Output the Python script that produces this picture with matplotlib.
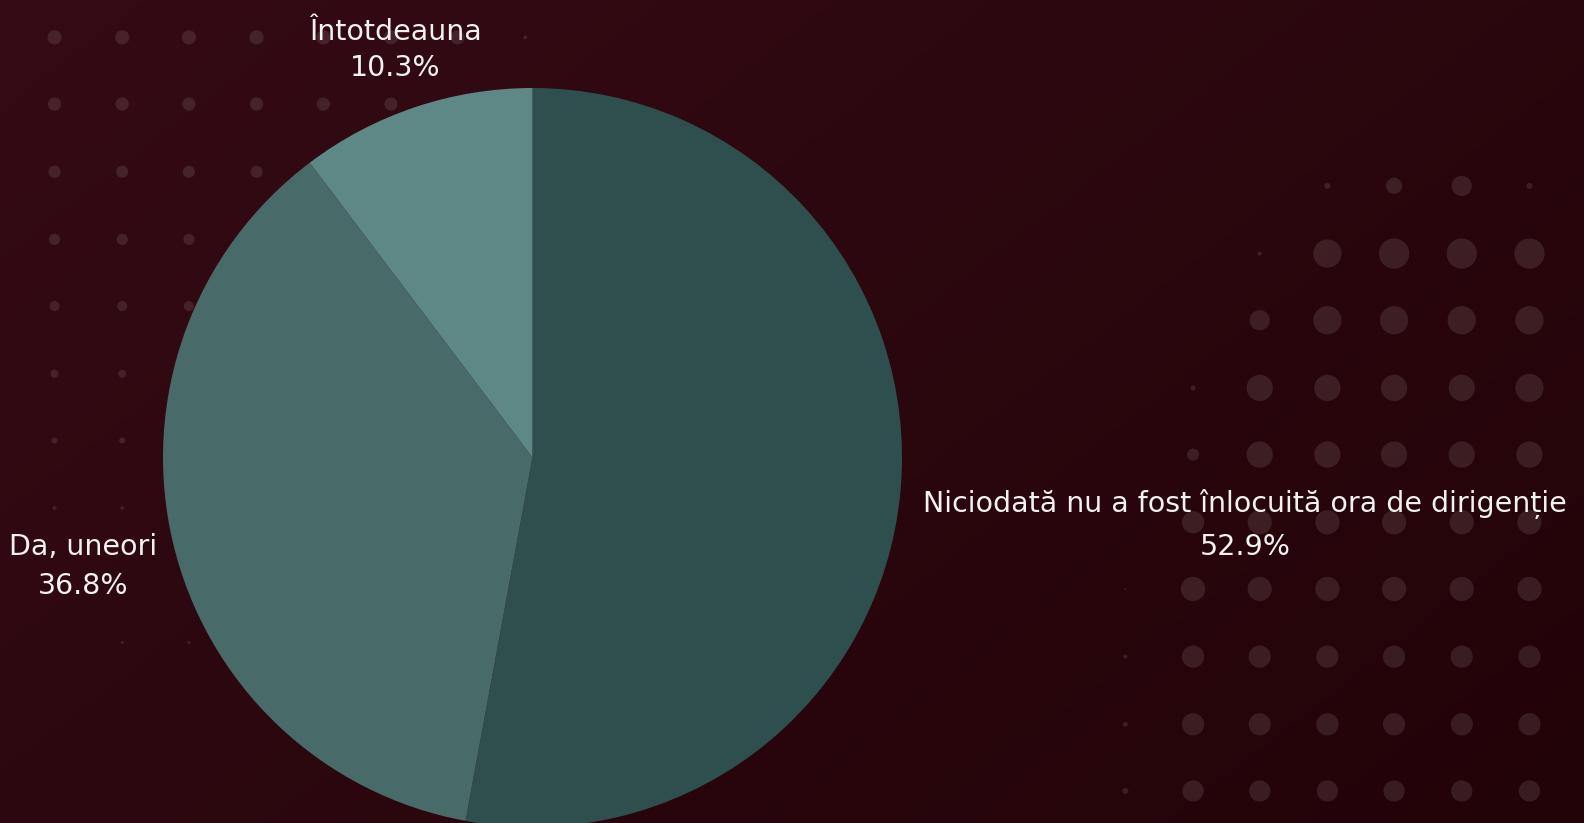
import numpy as np
import matplotlib
matplotlib.use("Agg")
from matplotlib import pyplot as plt
from matplotlib.patches import Circle

# data
labels = ["Niciodată nu a fost înlocuită ora de dirigenție", "Da, uneori", "Întotdeauna"]
values = [52.9, 36.8, 10.3]
colors = ["#2f4f4e", "#486a68", "#5e8885"]

W, H = 1584, 823
fig = plt.figure(figsize=(W / 100, H / 100), dpi=100)

# background gradient
bg = fig.add_axes([0, 0, 1, 1])
yy, xx = np.mgrid[0:1:200j, 0:1:400j]
t = (xx * 0.6 + yy * 0.4)
c0 = np.array([0x35, 0x0b, 0x15]) / 255
c1 = np.array([0x22, 0x03, 0x08]) / 255
img = c0[None, None, :] * (1 - t[..., None]) + c1[None, None, :] * t[..., None]
bg.imshow(img, extent=[0, W, H, 0], aspect="auto")
bg.set_xlim(0, W)
bg.set_ylim(H, 0)
bg.axis("off")

# decorative dots (pixel coords, top-left origin)
s = 1.0102
left_cols = [54, 121, 187, 254, 320, 387, 453, 520]
left_rows = [
    (37, [7, 7, 7, 7, 7, 7, 7, 2]),
    (103, [6.5, 6.5, 6.5, 6.5, 6.5, 6.5]),
    (170, [6, 6, 6, 6]),
    (237, [5.5, 5.5, 5.5]),
    (303, [5, 5, 5]),
    (370, [4, 4]),
    (436, [3, 3]),
    (503, [2, 2]),
    (636, [0, 1.5, 1.5]),
]
for y, rs in left_rows:
    for x, r in zip(left_cols, rs):
        if r > 0:
            bg.add_patch(Circle((x * s, y * s), r * s, color="white", alpha=0.1, lw=0))

right_cols = [1114, 1181, 1247, 1314, 1380, 1447, 1514]
right_rows = [
    (184, [0, 0, 0, 3, 8, 10, 3]),
    (251, [0, 0, 2, 14, 15, 15, 15]),
    (317, [0, 0, 10, 14, 14, 14, 14]),
    (384, [0, 2.5, 13, 13, 13, 13, 14]),
    (450, [0, 6, 13, 13, 13, 13, 13]),
    (517, [0, 11, 12, 12, 12, 12, 12]),
    (583, [1, 12, 12, 12, 12, 12, 12]),
    (650, [2, 11, 11, 11, 11, 11, 11]),
    (717, [2.5, 11, 11, 11, 11, 11, 11]),
    (783, [3, 10.5, 10.5, 10.5, 10.5, 10.5, 10.5]),
]
for y, rs in right_rows:
    for x, r in zip(right_cols, rs):
        if r > 0:
            bg.add_patch(Circle((x * s, y * s), r * s, color="white", alpha=0.1, lw=0))

# pie
R = 369.5
cx, cy = 532.5, 457.5
ax = fig.add_axes([(cx - R) / W, (H - cy - R) / H, 2 * R / W, 2 * R / H])
ax.pie(values, colors=colors, startangle=90, counterclock=False,
       wedgeprops=dict(linewidth=0), radius=1)
ax.set_xlim(-1, 1)
ax.set_ylim(-1, 1)
ax.axis("off")
for p in ax.patches:
    p.set_clip_on(False)

# labels
pos = [(1245, 525), (83, 566), (395, 50)]
spacing = [1.66, 1.5, 1.36]
for (x, y), ls, lab, v in zip(pos, spacing, labels, values):
    bg.text(x, y, f"{lab}\n{v}%", ha="center", va="center", color="#f2f2f2",
            fontsize=20.5, family="DejaVu Sans", linespacing=ls)

fig.savefig("out.png", dpi=100)
